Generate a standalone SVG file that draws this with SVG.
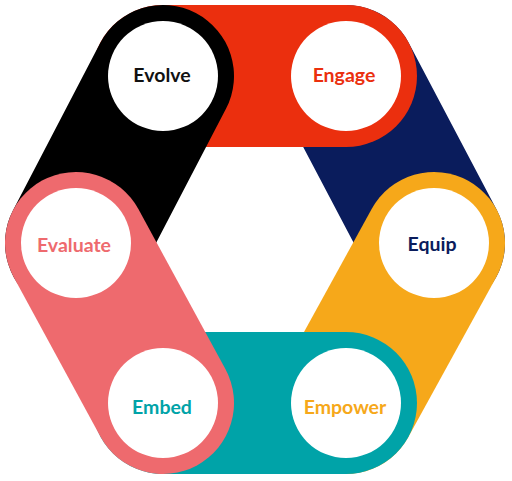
<svg xmlns="http://www.w3.org/2000/svg" width="512" height="481" viewBox="0 0 512 481">
<style>
.cap{fill:none;stroke-width:142;stroke-linecap:round}
.c{fill:#fff}
.t{font-family:Lato,"Open Sans",sans-serif;font-weight:bold;font-size:19.5px;text-anchor:middle}
</style>
<rect width="512" height="481" fill="#fff"/>
<g id="connectors">
<line class="cap" x1="346" y1="76" x2="434" y2="243" stroke="#0A1C5C"/>
<line class="cap" x1="434" y1="243" x2="346" y2="403" stroke="#F6A81A"/>
<line class="cap" x1="346" y1="403" x2="163" y2="403" stroke="#00A3A8"/>
<line class="cap" x1="163" y1="76" x2="346" y2="76" stroke="#EB2F0E"/>
<line class="cap" x1="76" y1="243" x2="163" y2="76" stroke="#000"/>
<line class="cap" x1="163" y1="403" x2="76" y2="243" stroke="#EE6A6E"/>
</g>
<g id="evolve"><circle class="c" cx="163" cy="76" r="55"/><text class="t" x="162" y="82" fill="#111">Evolve</text></g>
<g id="engage"><circle class="c" cx="346" cy="76" r="55"/><text class="t" x="344" y="82" fill="#EB2F0E">Engage</text></g>
<g id="equip"><circle class="c" cx="434" cy="243" r="55"/><text class="t" x="432" y="251" fill="#0A1C5C">Equip</text></g>
<g id="empower"><circle class="c" cx="346" cy="403" r="55"/><text class="t" x="345" y="414" fill="#F6A81A">Empower</text></g>
<g id="embed"><circle class="c" cx="163" cy="403" r="55"/><text class="t" x="162" y="414" fill="#00A3A8">Embed</text></g>
<g id="evaluate"><circle class="c" cx="76" cy="243" r="55"/><text class="t" x="74" y="252" fill="#EE6A6E">Evaluate</text></g>
</svg>
